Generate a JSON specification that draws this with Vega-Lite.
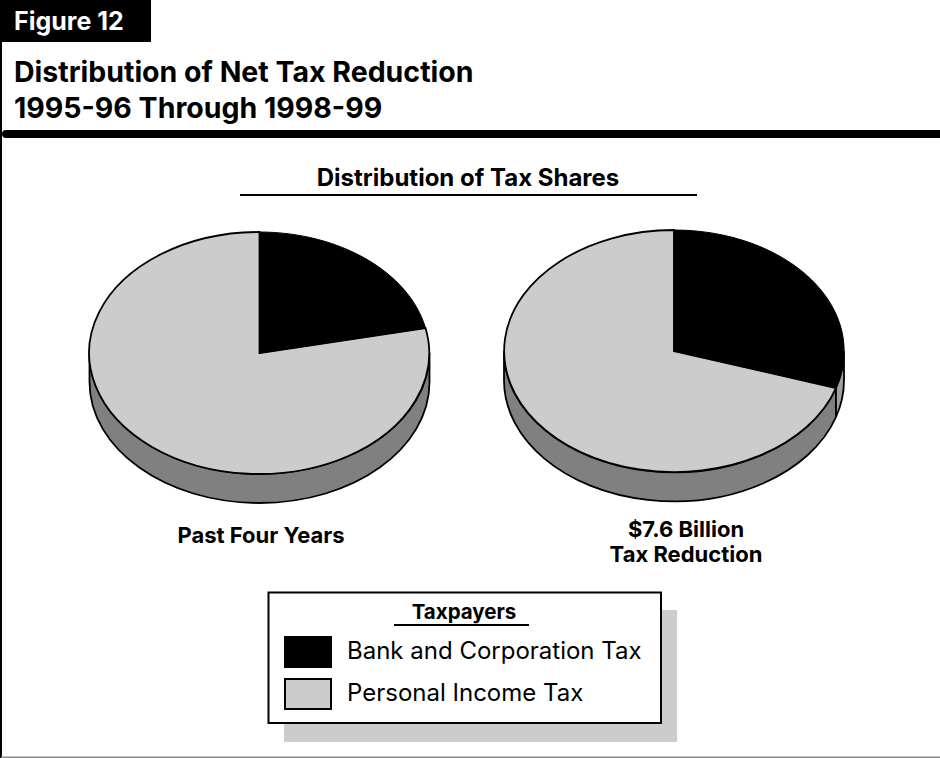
{
  "$schema": "https://vega.github.io/schema/vega-lite/v6.json",
  "width": 940,
  "height": 758,
  "autosize": {"type": "none"},
  "padding": 0,
  "background": "#ffffff",
  "config": {
    "view": {"stroke": null},
    "text": {"font": "Inter"}
  },
  "data": {
    "values": [
      {"pie": "Past Four Years", "slice": "Bank and Corporation Tax", "share": 22},
      {"pie": "Past Four Years", "slice": "Personal Income Tax", "share": 78},
      {"pie": "$7.6 Billion Tax Reduction", "slice": "Bank and Corporation Tax", "share": 32},
      {"pie": "$7.6 Billion Tax Reduction", "slice": "Personal Income Tax", "share": 68}
    ]
  },
  "layer": [
    {
      "data": {"values": [{"part": "frame left"}]},
      "mark": {"type": "rect", "fill": "#000000"},
      "encoding": {
        "x": {"datum": 0, "type": "quantitative", "scale": {"domain": [0, 940], "range": [0, 940], "nice": false, "zero": false}, "axis": null},
        "x2": {"datum": 2},
        "y": {"datum": 40, "type": "quantitative", "scale": {"domain": [0, 758], "range": [0, 758], "nice": false, "zero": false}, "axis": null},
        "y2": {"datum": 758}
      }
    },
    {
      "data": {"values": [{"part": "frame bottom"}]},
      "mark": {"type": "rect", "fill": "#8a8a8a"},
      "encoding": {
        "x": {"datum": 1, "type": "quantitative"},
        "x2": {"datum": 940},
        "y": {"datum": 756.5, "type": "quantitative"},
        "y2": {"datum": 758}
      }
    },
    {
      "data": {"values": [{"part": "figure tab"}]},
      "mark": {"type": "rect", "fill": "#000000"},
      "encoding": {
        "x": {"datum": 0, "type": "quantitative"},
        "x2": {"datum": 151},
        "y": {"datum": 0, "type": "quantitative"},
        "y2": {"datum": 42}
      }
    },
    {
      "data": {"values": [{"part": "heading bar"}]},
      "mark": {"type": "rule", "stroke": "#000000", "strokeWidth": 8, "strokeCap": "round"},
      "encoding": {
        "x": {"datum": 6, "type": "quantitative"},
        "x2": {"datum": 950},
        "y": {"datum": 134, "type": "quantitative"}
      }
    },
    {
      "data": {"values": [{"label": "Figure 12"}]},
      "mark": {"type": "text", "align": "left", "baseline": "alphabetic", "fontSize": 25, "fontWeight": "bold", "fill": "#ffffff"},
      "encoding": {
        "text": {"field": "label"},
        "x": {"datum": 14, "type": "quantitative"},
        "y": {"datum": 30, "type": "quantitative"}
      }
    },
    {
      "data": {"values": [{"label": "Distribution of Net Tax Reduction\n1995-96 Through 1998-99"}]},
      "mark": {"type": "text", "align": "left", "baseline": "alphabetic", "fontSize": 28.5, "fontWeight": "bold", "fill": "#000000", "lineBreak": "\n", "lineHeight": 36},
      "encoding": {
        "text": {"field": "label"},
        "x": {"datum": 14, "type": "quantitative"},
        "y": {"datum": 82, "type": "quantitative"}
      }
    },
    {
      "data": {"values": [{"label": "Distribution of Tax Shares"}]},
      "mark": {"type": "text", "align": "center", "baseline": "alphabetic", "fontSize": 24, "fontWeight": "bold", "fill": "#000000"},
      "encoding": {
        "text": {"field": "label"},
        "x": {"datum": 468, "type": "quantitative"},
        "y": {"datum": 186, "type": "quantitative"}
      }
    },
    {
      "data": {"values": [{"part": "subhead rule"}]},
      "mark": {"type": "rule", "stroke": "#000000", "strokeWidth": 2},
      "encoding": {
        "x": {"datum": 240, "type": "quantitative"},
        "x2": {"datum": 697},
        "y": {"datum": 195, "type": "quantitative"}
      }
    },
    {
      "transform": [{"filter": "datum.pie === 'Past Four Years' && datum.slice === 'Personal Income Tax'"}],
      "mark": {"type": "point", "filled": true, "opacity": 1, "size": 4, "fill": "#808080", "stroke": "#000000", "strokeWidth": 1.8, "shape": "M-170,0 A170,121 0 0 0 170,0 L170,29 A170,121 0 0 1 -170,29 Z"},
      "encoding": {
        "x": {"datum": 259.5, "type": "quantitative"},
        "y": {"datum": 353, "type": "quantitative"}
      }
    },
    {
      "transform": [{"filter": "datum.pie === 'Past Four Years' && datum.slice === 'Personal Income Tax'"}],
      "mark": {"type": "point", "filled": true, "opacity": 1, "size": 4, "stroke": "#000000", "strokeWidth": 1.8, "shape": "M0,0 L166,-25 A170,121 0 1 1 0,-121 Z"},
      "encoding": {
        "x": {"datum": 259.5, "type": "quantitative"},
        "y": {"datum": 353, "type": "quantitative"},
        "color": {
          "field": "slice",
          "type": "nominal",
          "scale": {"domain": ["Bank and Corporation Tax", "Personal Income Tax"], "range": ["#000000", "#cccccc"]},
          "legend": {
            "orient": "none",
            "legendX": 273,
            "legendY": 640,
            "title": null,
            "labelFont": "Inter",
            "labelFontSize": 24,
            "labelColor": "#000000",
            "labelOffset": 50,
            "labelLimit": 400,
            "rowPadding": 4,
            "symbolType": "M0,-15 H46 V15 H0 Z",
            "symbolSize": 4,
            "symbolStrokeColor": "#000000",
            "symbolStrokeWidth": 2,
            "symbolOpacity": 1,
            "zindex": 2
          }
        }
      }
    },
    {
      "transform": [{"filter": "datum.pie === 'Past Four Years' && datum.slice === 'Bank and Corporation Tax'"}],
      "mark": {"type": "point", "filled": true, "opacity": 1, "size": 4, "stroke": "#000000", "strokeWidth": 1, "shape": "M0,0 L0,-121 A170,121 0 0 1 166,-25 Z"},
      "encoding": {
        "x": {"datum": 259.5, "type": "quantitative"},
        "y": {"datum": 353, "type": "quantitative"},
        "color": {"field": "slice", "type": "nominal"}
      }
    },
    {
      "transform": [{"filter": "datum.pie === '$7.6 Billion Tax Reduction' && datum.slice === 'Personal Income Tax'"}],
      "mark": {"type": "point", "filled": true, "opacity": 1, "size": 4, "fill": "#808080", "stroke": "#000000", "strokeWidth": 1.8, "shape": "M-170,0 A170,121 0 0 0 162,37 L162,66 A170,121 0 0 1 -170,29 Z"},
      "encoding": {
        "x": {"datum": 674, "type": "quantitative"},
        "y": {"datum": 351, "type": "quantitative"}
      }
    },
    {
      "transform": [{"filter": "datum.pie === '$7.6 Billion Tax Reduction' && datum.slice === 'Bank and Corporation Tax'"}],
      "mark": {"type": "point", "filled": true, "opacity": 1, "size": 4, "fill": "#a0a0a0", "stroke": "#000000", "strokeWidth": 1.8, "shape": "M162,37 A170,121 0 0 0 170,0 L170,29 A170,121 0 0 1 162,66 Z"},
      "encoding": {
        "x": {"datum": 674, "type": "quantitative"},
        "y": {"datum": 351, "type": "quantitative"}
      }
    },
    {
      "transform": [{"filter": "datum.pie === '$7.6 Billion Tax Reduction' && datum.slice === 'Personal Income Tax'"}],
      "mark": {"type": "point", "filled": true, "opacity": 1, "size": 4, "stroke": "#000000", "strokeWidth": 1.8, "shape": "M0,0 L162,37 A170,121 0 1 1 0,-121 Z"},
      "encoding": {
        "x": {"datum": 674, "type": "quantitative"},
        "y": {"datum": 351, "type": "quantitative"},
        "color": {"field": "slice", "type": "nominal"}
      }
    },
    {
      "transform": [{"filter": "datum.pie === '$7.6 Billion Tax Reduction' && datum.slice === 'Bank and Corporation Tax'"}],
      "mark": {"type": "point", "filled": true, "opacity": 1, "size": 4, "stroke": "#000000", "strokeWidth": 1, "shape": "M0,0 L0,-121 A170,121 0 0 1 162,37 Z"},
      "encoding": {
        "x": {"datum": 674, "type": "quantitative"},
        "y": {"datum": 351, "type": "quantitative"},
        "color": {"field": "slice", "type": "nominal"}
      }
    },
    {
      "data": {"values": [{"label": "Past Four Years"}]},
      "mark": {"type": "text", "align": "center", "baseline": "alphabetic", "fontSize": 22, "fontWeight": "bold", "fill": "#000000"},
      "encoding": {
        "text": {"field": "label"},
        "x": {"datum": 261, "type": "quantitative"},
        "y": {"datum": 543, "type": "quantitative"}
      }
    },
    {
      "data": {"values": [{"label": "$7.6 Billion\nTax Reduction"}]},
      "mark": {"type": "text", "align": "center", "baseline": "alphabetic", "fontSize": 22, "fontWeight": "bold", "fill": "#000000", "lineBreak": "\n", "lineHeight": 25},
      "encoding": {
        "text": {"field": "label"},
        "x": {"datum": 686, "type": "quantitative"},
        "y": {"datum": 537, "type": "quantitative"}
      }
    },
    {
      "data": {"values": [{"part": "legend shadow"}]},
      "mark": {"type": "rect", "fill": "#cccccc"},
      "encoding": {
        "x": {"datum": 284, "type": "quantitative"},
        "x2": {"datum": 677},
        "y": {"datum": 610, "type": "quantitative"},
        "y2": {"datum": 742}
      }
    },
    {
      "data": {"values": [{"part": "legend box"}]},
      "mark": {"type": "rect", "fill": "#ffffff", "stroke": "#000000", "strokeWidth": 2},
      "encoding": {
        "x": {"datum": 268.5, "type": "quantitative"},
        "x2": {"datum": 661},
        "y": {"datum": 592.5, "type": "quantitative"},
        "y2": {"datum": 723}
      }
    },
    {
      "data": {"values": [{"label": "Taxpayers"}]},
      "mark": {"type": "text", "align": "center", "baseline": "alphabetic", "fontSize": 20.5, "fontWeight": "bold", "fill": "#000000"},
      "encoding": {
        "text": {"field": "label"},
        "x": {"datum": 464, "type": "quantitative"},
        "y": {"datum": 619, "type": "quantitative"}
      }
    },
    {
      "data": {"values": [{"part": "legend title rule"}]},
      "mark": {"type": "rule", "stroke": "#000000", "strokeWidth": 2},
      "encoding": {
        "x": {"datum": 394, "type": "quantitative"},
        "x2": {"datum": 529},
        "y": {"datum": 625, "type": "quantitative"}
      }
    }
  ]
}
